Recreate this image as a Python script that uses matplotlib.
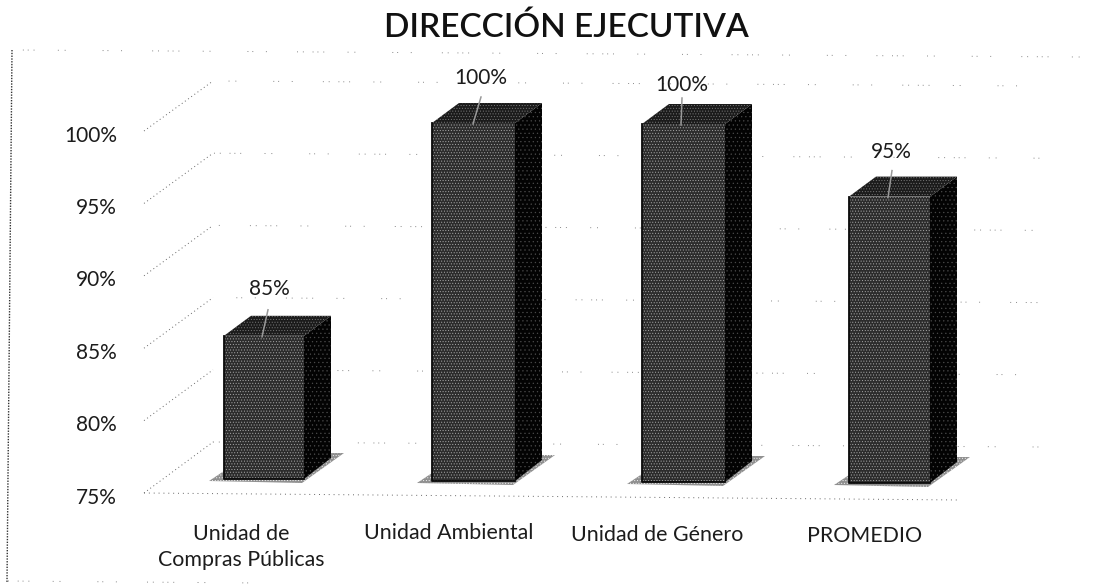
import matplotlib
matplotlib.use("Agg")
import matplotlib.pyplot as plt
from matplotlib.patches import Polygon
from matplotlib.lines import Line2D

categories = ["Unidad de\nCompras Públicas", "Unidad Ambiental", "Unidad de Género", "PROMEDIO"]
values = [85, 100, 100, 95]
labels = ["85%", "100%", "100%", "95%"]
ticks = [75, 80, 85, 90, 95, 100]
title = "DIRECCIÓN EJECUTIVA"

plt.rcParams['font.family'] = ['Lato', 'DejaVu Sans']
plt.rcParams['hatch.linewidth'] = 0.4
W, H = 1104, 584
fig = plt.figure(figsize=(W/100, H/100), dpi=100)
ax = fig.add_axes([0, 0, 1, 1])
ax.set_xlim(0, W); ax.set_ylim(H, 0); ax.axis('off')

TXT = '#1c1c1c'
sparse = (1, 5, 1, 9, 1, 4, 1, 5, 1, 24, 1, 6, 1, 38, 1, 4, 1, 13, 1, 31)
diag = dict(color='#666666', lw=0.7, ls=(0, (1, 3)))
for i, t in enumerate(ticks):
    front = 493 - (t-75)*14.48
    back = 442 - (t-75)*14.44
    ax.add_line(Line2D([144, 213], [front, back], **diag))
    ax.add_line(Line2D([213, 1040], [back, back+5], color='#888888', lw=0.7, ls=(i*37, sparse)))
    ax.text(117, front+4.5, f"{t}%", ha='right', va='center', fontsize=15, color=TXT)
ax.add_line(Line2D([144, 960], [493, 500], color='#666666', lw=0.7, ls=(0, (1, 4))))
ax.add_line(Line2D([12, 7], [50, 582], color='#333333', lw=1.0, ls=(0, (1, 1))))
ax.add_line(Line2D([18, 1080], [50, 57], color='#888888', lw=0.7, ls=(11, sparse)))
ax.add_line(Line2D([7, 260], [581, 583], color='#888888', lw=0.7, ls=(5, sparse)))

lefts = [224, 432, 642, 849]
widths = [80, 83, 83, 81]
bottoms = [479, 481, 482, 483]
label_x = [269, 481, 682, 891]
label_y_off = [47, 45, 39, 45]
cat_x = [241, 449, 657, 865]
cat_y = [547, 533, 535, 536]
lead = [(38, 44), (41, 49), (39, 40), (39, 43)]
for i, (left, w, bottom, v, lab, cat) in enumerate(zip(lefts, widths, bottoms, values, labels, categories)):
    top = bottom - (v-75)*14.32
    d, u = 27, 20
    r = left + w
    ax.add_patch(Polygon([[left-15, bottom+2], [left, bottom-8], [r+27, bottom-26], [r+40, bottom-26], [r-2, bottom+4]],
                         fc='#8f8f8f', ec='#eeeeee', lw=0, hatch='......', zorder=1))
    ax.add_patch(Polygon([[left, top], [r, top], [r, bottom], [left, bottom]], fc='#2c2c2c', ec='#a8a8a8', hatch='......', lw=0, zorder=2))
    ax.add_line(Line2D([left, left, r], [top, bottom, bottom], color='#0a0a0a', lw=1.3, zorder=2.1))
    ax.add_patch(Polygon([[r, top], [r+d, top-u], [r+d, bottom-21], [r, bottom]], fc='#030303', ec='#4a4a4a', hatch='....', lw=0, zorder=2))
    ax.add_patch(Polygon([[left, top], [left+d, top-u], [r+d, top-u], [r, top]], fc='#1b1b1b', ec='#777777', hatch='......', lw=0, zorder=2))
    ax.add_line(Line2D([left+lead[i][0], left+lead[i][1]], [top+1, top-26], color='#999999', lw=1.1, zorder=3))
    ax.text(label_x[i], top-label_y_off[i], lab, ha='center', va='center', fontsize=15, color=TXT, zorder=4)
    ax.text(cat_x[i], cat_y[i], cat, ha='center', va='center', fontsize=15.4, color=TXT, linespacing=1.42)

ax.text(566, 28, title, ha='center', va='center', fontsize=24, fontweight='semibold', color='#111111')
fig.savefig("out.png", dpi=100)
